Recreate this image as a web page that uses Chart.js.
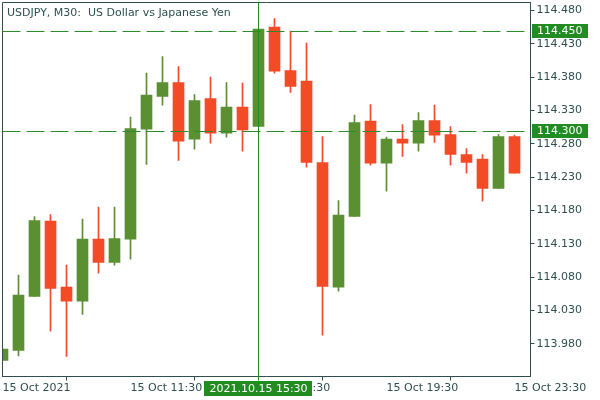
<!DOCTYPE html>
<html>
<head>
<meta charset="utf-8">
<title>USDJPY M30</title>
<script src="https://cdn.jsdelivr.net/npm/chart.js@4.4.1/dist/chart.umd.min.js"></script>
<style>
  html, body { margin: 0; padding: 0; background: #ffffff; }
</style>
</head>
<body>
<canvas id="chart" width="600" height="400"></canvas>
<script>
// M30 bars, 15 Oct 2021 07:30 .. 23:30 (last slot is the empty one at the right edge)
const times = [
  "07:30", "08:00", "08:30", "09:00", "09:30", "10:00", "10:30", "11:00",
  "11:30", "12:00", "12:30", "13:00", "13:30", "14:00", "14:30", "15:00",
  "15:30", "16:00", "16:30", "17:00", "17:30", "18:00", "18:30", "19:00",
  "19:30", "20:00", "20:30", "21:00", "21:30", "22:00", "22:30", "23:00",
  "23:30", ""
];
const opens = [
  113.955, 113.970, 114.051, 114.164, 114.065, 114.044, 114.137, 114.102,
  114.137, 114.302, 114.351, 114.372, 114.287, 114.348, 114.296, 114.335,
  114.306, 114.455, 114.390, 114.374, 114.252, 114.065, 114.171, 114.314,
  114.251, 114.287, 114.281, 114.315, 114.294, 114.264, 114.257, 114.213,
  114.291
];
const highs = [
  113.972, 114.083, 114.171, 114.174, 114.098, 114.167, 114.185, 114.185,
  114.320, 114.386, 114.411, 114.396, 114.354, 114.380, 114.372, 114.371,
  114.452, 114.468, 114.449, 114.431, 114.291, 114.195, 114.323, 114.339,
  114.290, 114.309, 114.327, 114.338, 114.306, 114.273, 114.264, 114.294,
  114.293
];
const lows = [
  113.955, 113.962, 114.051, 113.999, 113.961, 114.024, 114.086, 114.098,
  114.107, 114.249, 114.338, 114.255, 114.272, 114.281, 114.290, 114.269,
  114.306, 114.386, 114.357, 114.245, 113.993, 114.059, 114.171, 114.248,
  114.209, 114.261, 114.269, 114.282, 114.248, 114.236, 114.194, 114.213,
  114.236
];
const closes = [
  113.972, 114.053, 114.165, 114.063, 114.044, 114.137, 114.102, 114.138,
  114.303, 114.353, 114.372, 114.284, 114.345, 114.296, 114.335, 114.301,
  114.452, 114.389, 114.366, 114.252, 114.066, 114.173, 114.312, 114.251,
  114.287, 114.281, 114.315, 114.293, 114.264, 114.252, 114.213, 114.291,
  114.236
];

const yTicks = [113.98, 114.03, 114.08, 114.13, 114.18, 114.23, 114.28, 114.33, 114.38, 114.43, 114.48];
const xTickIdx = [0, 8, 16, 24, 32];
const xTickLabels = ["15 Oct 2021", "15 Oct 11:30", "15 Oct 15:30", "15 Oct 19:30", "15 Oct 23:30"];

const priceLevels = [114.450, 114.300];
const crossIdx = 16;
const crossLabel = "2021.10.15 15:30";
const title = "USDJPY, M30:  US Dollar vs Japanese Yen";

const upColor = "#5a8f32";
const downColor = "#f24b26";
const axisColor = "#2f4f4f";
const levelColor = "#2e8b2a";
const markColor = "#228b22";
const font = { family: "DejaVu Sans", size: 11 };

const candleColor = (ctx) =>
  closes[ctx.dataIndex] >= opens[ctx.dataIndex] ? upColor : downColor;

// levels, crosshair, title and the little price/time boxes
const overlay = {
  id: "overlay",
  afterDraw(chart) {
    const { ctx, chartArea: a, scales: { x, y } } = chart;
    ctx.save();

    // top and left frame (right/bottom are the axis borders)
    ctx.strokeStyle = axisColor;
    ctx.lineWidth = 1;
    ctx.beginPath();
    ctx.moveTo(Math.floor(a.left) + 0.5, Math.floor(a.bottom) + 0.5);
    ctx.lineTo(Math.floor(a.left) + 0.5, Math.floor(a.top) + 0.5);
    ctx.lineTo(Math.floor(a.right) + 0.5, Math.floor(a.top) + 0.5);
    ctx.stroke();

    // dashed price levels
    ctx.strokeStyle = levelColor;
    ctx.setLineDash([18, 6]);
    priceLevels.forEach(p => {
      const py = Math.round(y.getPixelForValue(p)) + 0.5;
      ctx.beginPath();
      ctx.moveTo(a.left, py);
      ctx.lineTo(a.right, py);
      ctx.stroke();
    });
    ctx.setLineDash([]);

    // crosshair
    const cx = Math.floor(x.getPixelForValue(crossIdx)) + 0.5;
    ctx.strokeStyle = markColor;
    ctx.beginPath();
    ctx.moveTo(cx, a.top);
    ctx.lineTo(cx, a.bottom + 4);
    ctx.stroke();

    // title
    ctx.font = font.size + "px " + font.family;
    ctx.fillStyle = axisColor;
    ctx.textAlign = "left";
    ctx.textBaseline = "alphabetic";
    ctx.fillText(title, 7, 16);

    // price boxes on the right axis
    ctx.textBaseline = "middle";
    priceLevels.forEach(p => {
      const py = Math.round(y.getPixelForValue(p));
      ctx.fillStyle = markColor;
      ctx.fillRect(Math.ceil(a.right) + 1, py - 7, 56, 14);
      ctx.fillStyle = "#ffffff";
      ctx.fillText(p.toFixed(3), Math.ceil(a.right) + 6, py + 0.5);
    });

    // time box under the crosshair
    const w = ctx.measureText(crossLabel).width + 10;
    ctx.fillStyle = markColor;
    ctx.fillRect(Math.round(cx - w / 2), Math.round(a.bottom) + 4, Math.round(w), 15);
    ctx.fillStyle = "#ffffff";
    ctx.textAlign = "center";
    ctx.fillText(crossLabel, cx, Math.round(a.bottom) + 12);

    ctx.restore();
  }
};

new Chart(document.getElementById("chart"), {
  type: "bar",
  data: {
    labels: times,
    datasets: [
      {
        label: "wick",
        data: lows.map((l, i) => [l, highs[i]]),
        backgroundColor: candleColor,
        barThickness: 1,
        grouped: false,
        borderWidth: 0,
        borderSkipped: false,
        order: 2
      },
      {
        label: "body",
        data: opens.map((o, i) => [o, closes[i]]),
        backgroundColor: candleColor,
        barThickness: 11,
        grouped: false,
        borderWidth: 0,
        borderSkipped: false,
        order: 1
      }
    ]
  },
  options: {
    responsive: false,
    devicePixelRatio: 1,
    animation: false,
    layout: { padding: { left: 2.5, top: 2.5, right: 0, bottom: 0 } },
    plugins: { legend: { display: false }, tooltip: { enabled: false } },
    scales: {
      x: {
        type: "category",
        offset: false,
        grid: { drawOnChartArea: false, tickLength: 4, color: axisColor },
        border: { color: axisColor },
        ticks: {
          autoSkip: false,
          maxRotation: 0,
          align: "start",
          padding: 1,
          color: axisColor,
          font: font,
          callback: (v) => {
            const i = xTickIdx.indexOf(v);
            return i >= 0 ? xTickLabels[i] : "";
          }
        },
        afterBuildTicks: (s) => {
          s.ticks = xTickIdx.map(v => ({ value: v }));
        },
        afterFit: (s) => {
          s.height = 23.5;
          s.paddingLeft = 0;
          s.paddingRight = 0;
        }
      },
      y: {
        position: "right",
        min: 113.931,
        max: 114.492,
        grid: { drawOnChartArea: false, tickLength: 4, color: axisColor },
        border: { color: axisColor },
        ticks: {
          color: axisColor,
          font: font,
          padding: 2,
          callback: (v) => Number(v).toFixed(3)
        },
        afterBuildTicks: (s) => {
          s.ticks = yTicks.map(v => ({ value: v }));
        },
        afterFit: (s) => {
          s.width = 69.5;
          s.paddingTop = 0;
          s.paddingBottom = 0;
        }
      }
    }
  },
  plugins: [overlay]
});
</script>
</body>
</html>
